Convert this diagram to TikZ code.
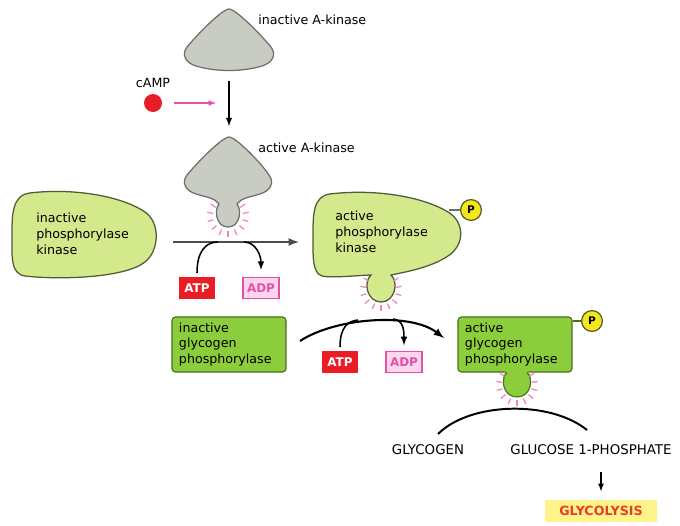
\documentclass[tikz,border=0pt]{standalone}
\usepackage{fontspec}
\newfontfamily\dejavu{DejaVu Sans}
\usetikzlibrary{arrows}

\definecolor{kinasegray}{RGB}{201,204,195}
\definecolor{kinaseedge}{RGB}{110,112,108}
\definecolor{blobgreen}{RGB}{211,233,140}
\definecolor{blobedge}{RGB}{80,92,52}
\definecolor{boxgreen}{RGB}{140,205,60}
\definecolor{boxedge}{RGB}{72,112,32}
\definecolor{atpred}{RGB}{234,28,36}
\definecolor{adpfill}{RGB}{252,214,236}
\definecolor{adpedge}{RGB}{228,80,168}
\definecolor{glowpink}{RGB}{240,130,190}
\definecolor{pyellow}{RGB}{242,230,30}
\definecolor{pedge}{RGB}{90,90,40}
\definecolor{lysisfill}{RGB}{255,244,140}
\definecolor{lysistext}{RGB}{230,60,40}

\tikzset{
  lbl/.style={font=\dejavu\fontsize{9}{11.2}\selectfont, align=left, inner sep=0pt},
  capslbl/.style={font=\dejavu\fontsize{9.5}{11}\selectfont, inner sep=0pt},
  kinase/.style={fill=kinasegray, draw=kinaseedge, line width=0.9pt},
  blob/.style={fill=blobgreen, draw=blobedge, line width=0.9pt},
  enzbox/.style={lbl, fill=boxgreen, draw=boxedge, line width=0.8pt, rounded corners=2.5pt,
    minimum width=2.85cm, minimum height=1.375cm, text width=2.5cm, inner xsep=0.175cm},
  atp/.style={fill=atpred, text=white, font=\dejavu\bfseries\fontsize{8.5}{9}\selectfont,
    minimum width=0.9cm, minimum height=0.525cm, inner sep=0pt},
  adp/.style={atp, fill=adpfill, draw=adpedge, line width=0.8pt, text=adpedge},
  phos/.style={circle, fill=pyellow, draw=pedge, line width=0.9pt, minimum size=0.52cm,
    inner sep=0pt, font=\dejavu\bfseries\fontsize{7.5}{8}\selectfont},
  glow/.style={draw=glowpink, line width=0.9pt},
  react/.style={line width=1.5pt, -latex},
  side/.style={line width=1.1pt}
}

% pink rays round an active site
\newcommand\glowticks[1]{\foreach \a in {-35,-10,...,215} \draw[glow] (#1) ++(\a:15) -- ++(\a:6);}

\begin{document}
\begin{tikzpicture}[x=0.025cm, y=-0.025cm]
\useasboundingbox (0,0) rectangle (680,526);

% A-kinase
\draw[kinase] (229,9) .. controls (222,9) and (196,36) .. (187,47) .. controls (181,55) and (186,63) .. (196,66)
  .. controls (216,72) and (242,72) .. (262,66) .. controls (272,63) and (277,55) .. (271,47)
  .. controls (262,36) and (236,9) .. (229,9) -- cycle;
\node[lbl, anchor=west] (ak1) at (258,20) {inactive A-kinase};
\draw[kinase] (229,137) .. controls (222,137) and (196,164) .. (187,175) .. controls (181,183) and (186,191) .. (196,194)
  .. controls (206,197) and (215,198) .. (219,204) .. controls (214,210) and (216,227) .. (228,227)
  .. controls (240,227) and (242,210) .. (237,204) .. controls (241,198) and (250,197) .. (260,194)
  .. controls (270,191) and (275,183) .. (269,175) .. controls (262,164) and (236,137) .. (229,137) -- cycle;
\node[lbl, anchor=west] (ak2) at (258,148) {active A-kinase};
\coordinate (akbulb) at (228,216);
\glowticks{akbulb}
\coordinate (ak1b) at (229,81);
\coordinate (ak2t) at (229,126);
\draw[line width=1pt, -latex] (ak1b) -- (ak2t);

% cAMP
\node[circle, fill=atpred, minimum size=0.45cm, inner sep=0pt] (camp) at (153,103) {};
\node[lbl] (camplbl) at (153,83) {cAMP};
\coordinate (campto) at (216,103);
\draw[adpedge, line width=0.8pt, -latex] ([xshift=8pt]camp.east) -- (campto);

% phosphorylase kinase
\draw[blob] (30,193) .. controls (70,188) and (120,195) .. (145,212) .. controls (160,222) and (160,250) .. (145,262)
  .. controls (125,278) and (60,280) .. (25,276) .. controls (10,274) and (12,255) .. (12,235)
  .. controls (12,215) and (12,195) .. (30,193) -- cycle;
\node[lbl, anchor=west] (ipk) at (36,234) {inactive\\phosphorylase\\kinase};
\draw[blob] (330,194) .. controls (370,189) and (420,195) .. (448,212) .. controls (465,222) and (465,245) .. (448,256)
  .. controls (430,268) and (405,272) .. (391,275) .. controls (399,282) and (395,302) .. (381,302)
  .. controls (367,302) and (363,282) .. (371,275) .. controls (350,276) and (330,278) .. (322,276)
  .. controls (312,273) and (313,255) .. (313,235) .. controls (313,215) and (313,196) .. (330,194) -- cycle;
\node[lbl, anchor=west] (apk) at (335,232) {active\\phosphorylase\\kinase};
\coordinate (apkbulb) at (381,290);
\glowticks{apkbulb}
\node[phos] (p1) at (471,210) {P};
\coordinate (apkedge) at (449,210);
\draw[kinaseedge, line width=0.8pt] (apkedge) -- (p1);

% first phosphorylation
\coordinate (r1s) at (173,242);
\coordinate (r1e) at (299,242);
\draw[react, draw=black!70] (r1s) -- (r1e);
\node[atp] (atp1) at (197,288) {ATP};
\node[adp] (adp1) at (261,288) {ADP};
\coordinate (r1a) at (218,242);
\coordinate (r1b) at (244,242);
\draw[side] ([yshift=3pt]atp1.north) .. controls +(0,-22) and +(-12,0) .. (r1a);
\draw[side, -latex] (r1b) .. controls +(12,0) and +(0,-14) .. ([yshift=5pt]adp1.north);

% glycogen phosphorylase
\node[enzbox] (igp) at (229,344.5) {inactive\\glycogen\\phosphorylase};
\node[enzbox] (agp) at (515,344.5) {active\\glycogen\\phosphorylase};
\fill[boxgreen] (507,370) .. controls (499,378) and (503,397) .. (517,397) .. controls (531,397) and (535,378) .. (527,370) -- cycle;
\draw[boxedge, line width=0.8pt] (507,372.5) .. controls (500,379) and (503,397) .. (517,397) .. controls (531,397) and (534,379) .. (527,372.5);
\coordinate (agpbulb) at (517,385);
\glowticks{agpbulb}
\node[phos] (p2) at (592,321) {P};
\draw[boxedge, line width=0.8pt] (agp.east |- p2) -- (p2);

% second phosphorylation
\coordinate (r2s) at (300,341);
\coordinate (r2e) at (444,338);
\draw[react] (r2s) .. controls (335,318) and (410,312) .. (r2e);
\node[atp] (atp2) at (340,362) {ATP};
\node[adp] (adp2) at (404,362) {ADP};
\coordinate (r2a) at (358,320);
\coordinate (r2b) at (393,319);
\draw[side] ([yshift=3pt]atp2.north) .. controls +(0,-20) and +(-10,1) .. (r2a);
\draw[side, -latex] (r2b) .. controls +(10,1) and +(0,-16) .. ([yshift=4pt]adp2.north);

% glycogen breakdown
\node[capslbl] (glycogen) at (428,450) {GLYCOGEN};
\node[capslbl] (g1p) at (591,450) {GLUCOSE 1-PHOSPHATE};
\coordinate (r3s) at (438,434);
\coordinate (r3e) at (587,430);
\draw[line width=1.4pt] (r3s) .. controls (470,402) and (550,400) .. (r3e);
\node[fill=lysisfill, text=lysistext, font=\dejavu\bfseries\fontsize{9}{10}\selectfont,
  minimum width=2.8cm, minimum height=0.55cm, inner sep=0pt] (lysis) at (601,511) {GLYCOLYSIS};
\coordinate (g1pb) at (g1p.south -| lysis.north);
\draw[line width=0.9pt, -latex] ([yshift=-12pt]g1pb) -- ([yshift=6pt]lysis.north);
\end{tikzpicture}
\end{document}
